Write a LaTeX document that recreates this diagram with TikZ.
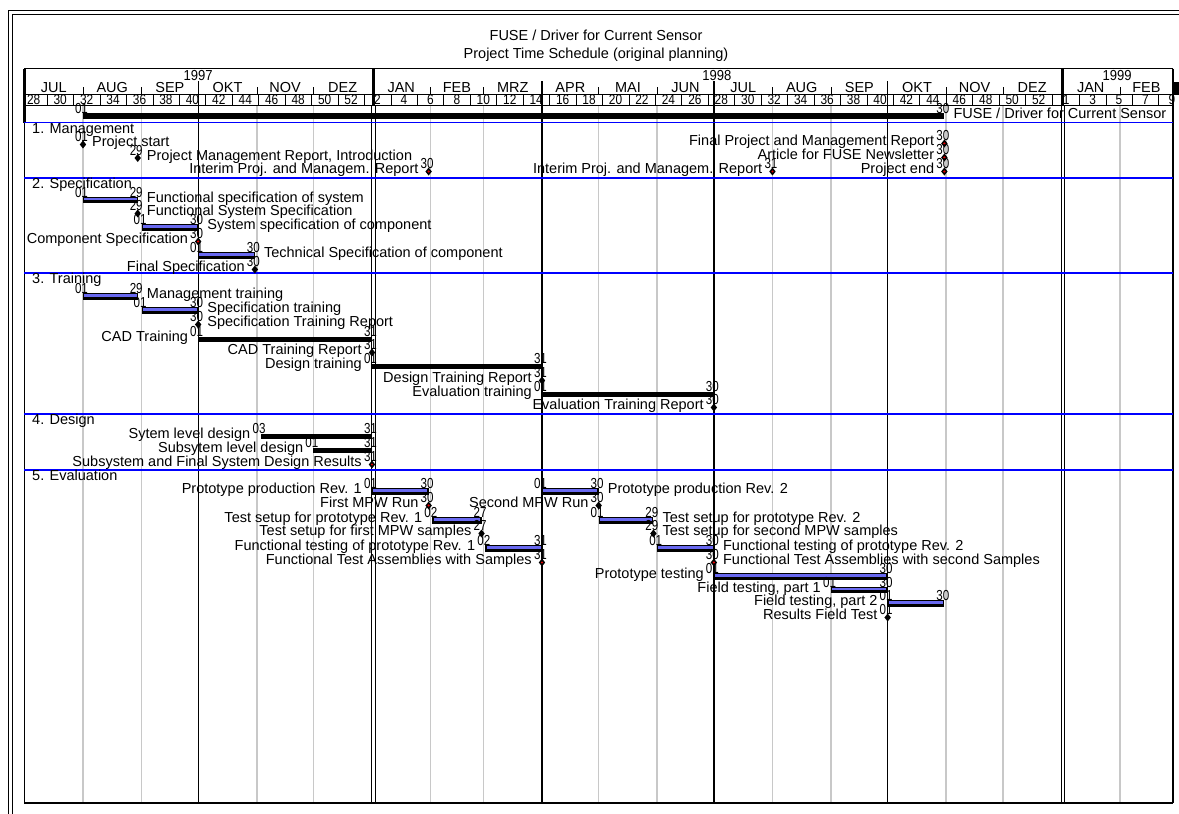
\documentclass[tikz,border=0pt]{standalone}
\usepackage{graphicx}
\usepackage{fontspec}
\setmainfont{Liberation Sans}
\usetikzlibrary{positioning}
\definecolor{taskblue}{RGB}{105,105,240}
\definecolor{gridgrey}{RGB}{200,200,200}
\definecolor{sectionblue}{RGB}{0,0,255}
\definecolor{msred}{RGB}{225,0,0}
\tikzset{
  txt/.style={font=\fontsize{14.5}{16}\selectfont, inner sep=0pt},
  weektxt/.style={font=\fontsize{14}{15}\selectfont, inner sep=0pt},
  gridline/.style={gridgrey, line width=1.5pt},
  qline/.style={black, line width=1.3pt},
  secline/.style={sectionblue, line width=1.5pt},
}
\begin{document}
\begin{tikzpicture}[x=1pt,y=-1pt]
\useasboundingbox (0,0) rectangle (1179,814);
\clip (0,0) rectangle (1179,814);

% outer frame
\draw (8,830) -- (8,10) -- (1195,10);
\draw (12,830) -- (12,14) -- (1195,14);

% title
\node[txt, anchor=base] (title) at (596,40) {FUSE / Driver for Current Sensor};
\node[txt, anchor=base] (subtitle) at (596,58) {Project Time Schedule (original planning)};

% month lines (x = 24.4 + 1.889*day)
\foreach \d in {31,62,123,153,215,243,304,335,396,427,488,518,580} {
  \draw[gridline] ({24.4+1.889*\d},105) -- ({24.4+1.889*\d},803);
  \draw ({24.4+1.889*\d},87) -- ({24.4+1.889*\d},94.5);
}
% quarters
\foreach \d in {92,274,365,457}
  \draw[qline] ({24.4+1.889*\d},81) -- ({24.4+1.889*\d},803);
% years
\foreach \d in {184,549} {
  \draw[line width=3pt] ({24.4+1.889*\d+1.5},68.5) -- ({24.4+1.889*\d+1.5},105);
  \draw[line width=1pt] ({24.4+1.889*\d},105) -- ({24.4+1.889*\d},803)
    ({24.4+1.889*\d+3.5},105) -- ({24.4+1.889*\d+3.5},803);
}

% header box
\draw[line width=1.5pt] (24.4,68.5) -- (1173,68.5);
\draw (24.4,94.5) -- (1173,94.5);
\draw (24.4,105) -- (1173,105);
\draw[line width=2.5pt] (24.4,68.5) -- (24.4,122.5);
\draw[line width=1.2pt] (24.4,122.5) -- (24.4,803);
\draw[line width=1.2pt] (1173,68.5) -- (1173,803);
\draw[line width=1.2pt] (24.4,803) -- (1173,803);
\fill (1173,82) rectangle (1179,94.5);

% months
\foreach \a/\b/\m in {0/31/JUL,31/62/AUG,62/92/SEP,92/123/OKT,123/153/NOV,153/184/DEZ,
    184/215/JAN,215/243/FEB,243/274/MRZ,274/304/APR,304/335/MAI,335/365/JUN,
    365/396/JUL,396/427/AUG,427/457/SEP,457/488/OKT,488/518/NOV,518/549/DEZ,
    549/580/JAN,580/608/FEB}
  \node[txt, anchor=base] (mon-\a) at ({24.4+0.9445*(\a+\b)},92.5) {\m};
\node[txt, anchor=base] (y1997) at (198.2,80.5) {\scalebox{.9}[1]{1997}};
\node[txt, anchor=base] (y1998) at (716.8,80.5) {\scalebox{.9}[1]{1998}};
\node[txt, anchor=base] (y1999) at (1117.2,80.5) {\scalebox{.9}[1]{1999}};

% weeks
\foreach \w in {28,30,...,52} {
  \node[weektxt, anchor=base] (wa-\w) at ({24.4+1.889*(7*\w-190)-2},104.5) {\scalebox{.85}[1]{\w}};
  \draw ({24.4+1.889*(7*\w-190)+11.2},94.5) -- ++(0,10.5);
}
\foreach \w in {2,4,...,52} {
  \node[weektxt, anchor=base] (wb-\w) at ({24.4+1.889*(7*\w+174)-2},104.5) {\scalebox{.85}[1]{\w}};
  \draw ({24.4+1.889*(7*\w+174)+11.2},94.5) -- ++(0,10.5);
}
\foreach \w in {1,3,5,7,9}
  \node[weektxt, anchor=base] (wc-\w) at ({24.4+1.889*(7*\w+545)-1},104.5) {\scalebox{.85}[1]{\w}};
\foreach \w in {1,3,5,7}
  \draw ({24.4+1.889*(7*\w+545)+12.2},94.5) -- ++(0,10.5);

% sections
\foreach \y/\t [count=\i] in {122.5/1. Management,178/2. Specification,273/3. Training,414/4. Design,470/5. Evaluation} {
  \draw[secline] (24.4,\y) -- (1173,\y);
  \node[txt, anchor=base west] (sec-\i) at (32,\y+10.5) {\t};
}

% summary and group bars
\fill ({24.4+1.889*31},113) rectangle ({24.4+1.889*487},119);
\foreach \s/\e/\y in {92/184/339,184/274/366,274/365/394,125/184/436,153/184/450}
  \fill ({24.4+1.889*\s},\y-2.5) rectangle ({24.4+1.889*\e},\y+2.5);

% task bars
\foreach \s/\e/\y in {31/60/199.5,62/92/227,92/122/255,31/60/296,62/92/310,
    184/214/491,274/304/491,216/242/520,304/333/520,244/274/548,335/365/548,
    365/457/576,427/457/589.5,457/487/603} {
  \fill ({24.4+1.889*\s},\y-3) rectangle ({24.4+1.889*\e},\y+3.5);
  \fill[taskblue] ({24.4+1.889*\s+1.2},\y-2) rectangle ({24.4+1.889*\e-1.2},\y+0.5);
}

% milestones
\foreach \d/\y/\c in {31/144/black,60/157.5/black,214/171/msred,487/143/msred,487/157/msred,
    396/171/msred,487/171/msred,60/213/black,92/241/msred,122/269/black,92/324/black,
    184/352/black,274/380/black,365/407/black,184/464/msred,214/505/msred,304/505/black,
    242/533/black,333/533/black,274/562/msred,365/562/msred,457/617/black} {
  \fill ({24.4+1.889*\d},\y-3.5) -- ++(3.2,4) -- ++(-3.2,4) -- ++(-3.2,-4) -- cycle;
  \fill[\c] ({24.4+1.889*\d},\y+0.5) circle (1.2);
}

% day labels
\foreach \d/\y/\t [count=\i] in {31/116/01,487/116/30,
    31/144/01,60/157.5/29,214/171/30,487/143/30,487/157/30,396/171/31,487/171/30,
    31/199.5/01,60/199.5/29,60/213/29,62/227/01,92/227/30,92/241/30,92/255/01,122/255/30,122/269/30,
    31/296/01,60/296/29,62/310/01,92/310/30,92/324/30,92/339/01,184/339/31,184/352/31,
    184/366/01,274/366/31,274/380/31,274/394/01,365/394/30,365/407/30,
    125/436/03,184/436/31,153/450/01,184/450/31,184/464/31,
    184/491/01,214/491/30,274/491/01,304/491/30,214/505/30,304/505/30,
    216/520/02,242/520/27,304/520/01,333/520/29,242/533/27,333/533/29,
    244/548/02,274/548/31,335/548/01,365/548/30,274/562/31,365/562/30,
    365/576/01,457/576/30,427/589.5/01,457/589.5/30,457/603/01,487/603/30,457/617/01}
  \node[txt, anchor=base] (dl-\i) at ({24.4+1.889*\d-1.5},\y-2.5) {\scalebox{.8}[1]{\t}};

% labels right of the bars
\node[txt, anchor=base west] (fuse) at ({24.4+1.889*487+9},118.5) {FUSE / Driver for Current Sensor};
\foreach \d/\y/\t [count=\i] in {31/144/Project start,
    60/157.5/{Project Management Report, Introduction},
    60/199.5/Functional specification of system,60/213/Functional System Specification,
    92/227/System specification of component,122/255/Technical Specification of component,
    60/296/Management training,92/310/Specification training,92/324/Specification Training Report,
    304/491/Prototype production Rev. 2,333/520/Test setup for prototype Rev. 2,
    333/533/Test setup for second MPW samples,365/548/Functional testing of prototype Rev. 2,
    365/562/Functional Test Assemblies with second Samples}
  \node[txt, anchor=base west] (rl-\i) at ({24.4+1.889*\d+9},\y+2.5) {\t};

% labels left of the bars
\foreach \d/\y/\t [count=\i] in {214/171/Interim Proj. and Managem. Report,
    487/143/Final Project and Management Report,487/157/Article for FUSE Newsletter,
    396/171/Interim Proj. and Managem. Report,487/171/Project end,
    92/241/Component Specification,122/269/Final Specification,
    92/339/CAD Training,184/352/CAD Training Report,184/366/Design training,
    274/380/Design Training Report,274/394/Evaluation training,365/407/Evaluation Training Report,
    125/436/Sytem level design,153/450/Subsytem level design,
    184/464/Subsystem and Final System Design Results,
    184/491/Prototype production Rev. 1,214/505/First MPW Run,304/505/Second MPW Run,
    216/520/Test setup for prototype Rev. 1,242/533/Test setup for first MPW samples,
    244/548/Functional testing of prototype Rev. 1,274/562/Functional Test Assemblies with Samples,
    365/576/Prototype testing,427/589.5/{Field testing, part 1},457/603/{Field testing, part 2},
    457/617/Results Field Test}
  \node[txt, anchor=base east] (ll-\i) at ({24.4+1.889*\d-10},\y+2.5) {\t};
\end{tikzpicture}
\end{document}
